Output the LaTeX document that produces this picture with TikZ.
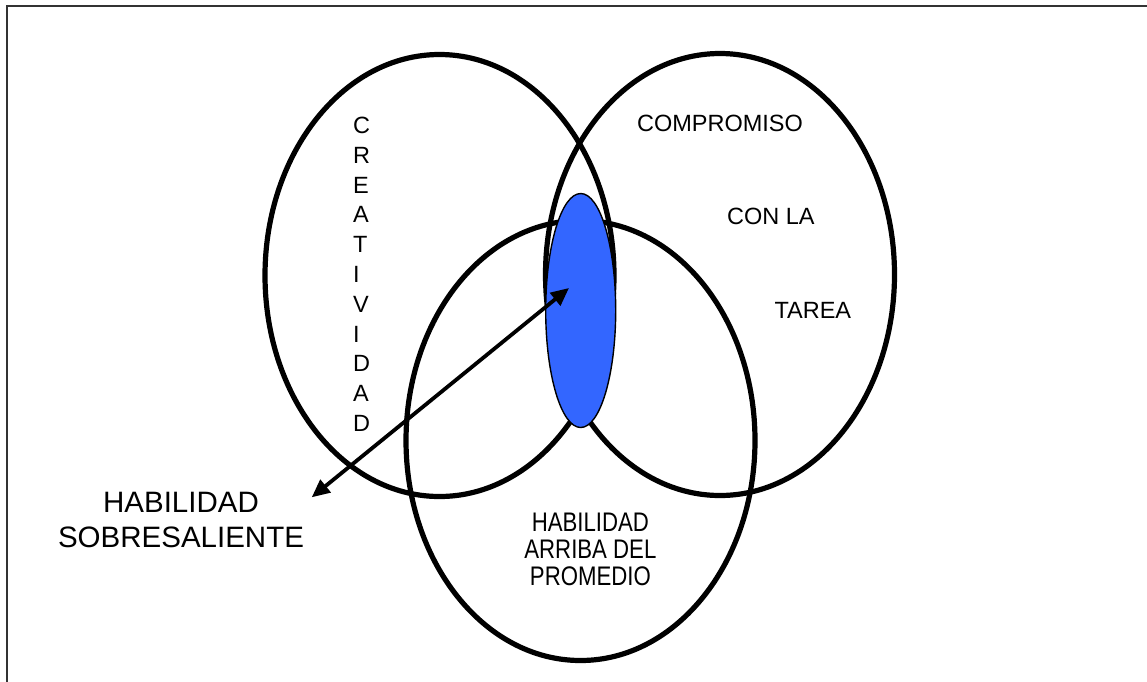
\documentclass[tikz,border=0pt]{standalone}
\usepackage{fontspec}
\setmainfont{Liberation Sans}
\usepackage{xcolor}
\usetikzlibrary{arrows.meta}
\definecolor{nucleo}{HTML}{3366FF}

\begin{document}
\begin{tikzpicture}[x=1pt, y=-1pt,
    ring/.style={line width=5.2pt},
    etiqueta/.style={inner sep=0pt, font=\fontsize{23.5}{28}\selectfont}]
    \useasboundingbox (0,0) rectangle (1147,681);
    % Frame
    \draw[line width=1.6pt, black!80] (7,5.7) rectangle (1170,700);
    % Circles
    \draw[ring] (439.5,275.5) ellipse [x radius=174.5pt, y radius=221pt];
    \draw[ring] (720,274.5) ellipse [x radius=174.5pt, y radius=221pt];
    \draw[ring] (580.5,440.5) ellipse [x radius=174.5pt, y radius=220pt];
    % Core
    \draw[fill=nucleo, line width=1.4pt] (580.7,310.5) ellipse [x radius=35pt, y radius=117pt];
    % Labels
    \node[etiqueta, align=left, anchor=west, font=\fontsize{23.5}{29.8}\selectfont] (creatividad) at (353,274.2)
        {C\\R\\E\\A\\T\\I\\V\\I\\D\\A\\D};
    \node[etiqueta] (compromiso) at (720,123.7) {COMPROMISO};
    \node[etiqueta] (conla) at (770.8,216.7) {CON LA};
    \node[etiqueta] (tarea) at (812.8,310.7) {TAREA};
    \begin{scope}[shift={(590.4,549.7)}, yscale=1.21, transform shape]
        \node[etiqueta, align=center, font=\fontsize{22.2}{22.3}\selectfont] (promedio) at (0,0)
            {HABILIDAD\\ARRIBA DEL\\PROMEDIO};
    \end{scope}
    \node[etiqueta, align=center, font=\fontsize{29.5}{35}\selectfont] (sobresaliente) at (181,519.5)
        {HABILIDAD\\SOBRESALIENTE};
    % Arrow
    \coordinate (punta1) at (311.7,497.3);
    \coordinate (punta2) at (569,288);
    \draw[line width=3.8pt, {Triangle[length=18pt,width=16pt]}-{Triangle[length=18pt,width=16pt]}] (punta1) -- (punta2);
\end{tikzpicture}
\end{document}
